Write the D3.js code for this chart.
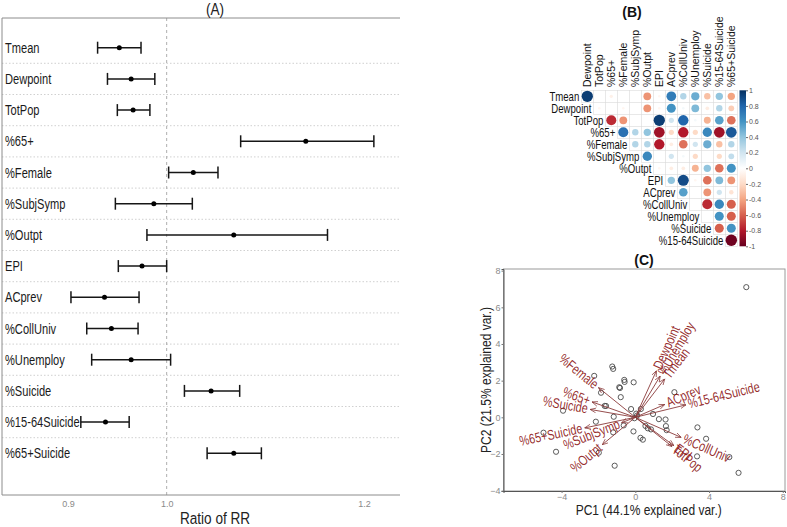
<!DOCTYPE html>
<html><head><meta charset="utf-8">
<script src="https://cdn.jsdelivr.net/npm/d3@7"></script>
<style>body{margin:0;background:#fff} svg{display:block} text{font-family:"Liberation Sans",Arial,sans-serif}</style>
</head><body><svg id="c" width="787" height="527"></svg>
<script>
// ---------- Panel A data ----------
const rrVars = ["Tmean","Dewpoint","TotPop","%65+","%Female","%SubjSymp","%Outpt","EPI","ACprev","%CollUniv","%Unemploy","%Suicide","%15-64Suicide","%65+Suicide"];
const rrEst  = [0.952,0.964,0.966,1.141,1.027,0.987,1.068,0.975,0.937,0.944,0.964,1.045,0.938,1.068];
const rrLow  = [0.930,0.940,0.950,1.075,1.002,0.948,0.980,0.951,0.903,0.919,0.924,1.018,0.913,1.041];
const rrHigh = [0.974,0.988,0.983,1.210,1.052,1.026,1.163,1.000,0.972,0.971,1.004,1.074,0.962,1.096];
const rrTicks = [0.9,1.0,1.2];

// ---------- Panel B data ----------
const corrVars = ["Tmean","Dewpoint","TotPop","%65+","%Female","%SubjSymp","%Outpt","EPI","ACprev","%CollUniv","%Unemploy","%Suicide","%15-64Suicide","%65+Suicide"];
// row i holds correlations of corrVars[i] with corrVars[i+1..13]
const corrRows = [
  [0.95,0,-0.08,0,0,-0.45,-0.05,0.7,0.3,0.5,-0.3,0.4,-0.4],
  [-0.05,0,-0.05,0,-0.45,-0.05,0.6,0.05,0.45,-0.1,0.3,-0.25],
  [-0.75,-0.45,0,0,0.95,0.2,0.8,0.05,-0.35,0.55,-0.55],
  [0.75,0.3,0.4,-0.85,-0.2,-0.8,-0.2,0.65,-0.85,0.85],
  [0.3,0.3,-0.8,-0.1,-0.55,0.2,0.5,-0.3,0.3],
  [0.65,0,0.2,0.05,-0.2,0,-0.2,0.25],
  [-0.05,-0.1,-0.1,-0.35,0.4,-0.55,0.6],
  [0.4,0.9,-0.05,-0.55,0.45,-0.45],
  [0.55,0,-0.45,0.2,-0.15],
  [0,-0.75,0.65,-0.6],
  [0,0.6,-0.6],
  [-0.6,0.6],
  [-0.98]
];
const corrLegendTicks = [1,0.8,0.6,0.4,0.2,0,-0.2,-0.4,-0.6,-0.8,-1];
const corrPalette = ["#67001F","#B2182B","#D6604D","#F4A582","#FDDBC7","#FFFFFF","#D1E5F0","#92C5DE","#4393C3","#2166AC","#053061"];

// ---------- Panel C data ----------
const pcaScores = [[6.02,7.1],[-1.25,2.77],[-1.2,2.64],[-2.23,2.26],[-0.6,2.04],[-0.58,1.93],[-0.09,1.91],[-0.87,1.64],[-0.83,1.6],[-1.86,1.34],[-0.79,1.1],[2.12,1.37],[-1.66,0.62],[-1.59,0.62],[-0.23,0.45],[0.3,0.45],[-3.92,0.36],[0.96,0.18],[-1.17,0.03],[1.28,-0.1],[1.64,-0.12],[-2.14,-0.24],[-0.63,-0.44],[0.55,-0.47],[0.68,-0.6],[0.85,-0.66],[1.66,-0.48],[1.7,-0.7],[3.37,-0.55],[-0.1,-0.77],[-4.98,-0.84],[-1.2,-0.82],[3.84,-1.17],[0.28,-1.12],[0.41,-1.22],[-4.3,-1.88],[-1.98,-1.93],[3.35,-2.13],[5.1,-2.17],[-1.12,-2.64],[5.6,-3.03],[0.1,0.1],[-0.05,-0.05],[0.05,0.2]];
const pcaLoadVars = ["Tmean","Dewpoint","%Unemploy","TotPop","EPI","%65+","%Female","%SubjSymp","%Outpt","ACprev","%CollUniv","%Suicide","%15-64Suicide","%65+Suicide"];
const pcaLoadX = [1.6,1.15,1.35,2.0,2.1,-2.35,-2.0,-0.75,-1.8,1.6,2.5,-2.45,2.75,-2.75];
const pcaLoadY = [2.1,2.55,2.25,-1.6,-1.55,0.84,1.62,-0.3,-1.5,0.7,-1.1,0.43,0.68,-0.58];
const pcaXTicks = [-4,0,4,8];
const pcaYTicks = [-4,-2,0,2,4,6,8];

// ---------- helpers ----------
const svg = d3.select("#c");
const defs = svg.append("defs");
function txt(parent, str, x, y, o = {}) {
  const g = parent.append("g").attr("transform", `translate(${x},${y}) rotate(${o.rot||0}) scale(${o.sx||1},1)`);
  const t = g.append("text").text(str)
    .attr("font-size", o.size || 12)
    .attr("fill", o.fill || "#000")
    .attr("text-anchor", o.anchor || "start");
  if (o.base) t.attr("dominant-baseline", o.base);
  if (o.weight) t.attr("font-weight", o.weight);
  if (o.dx) t.attr("dx", o.dx);
  return t;
}

// ================= Panel A =================
const A = svg.append("g");
const xA = d3.scaleLinear().domain([0.9,1.2]).range([68,364]);
const yA = d3.scalePoint().domain(rrVars).range([47.7,453.3]);
const aTop = 18, aBot = 495, aLeft = 2, aRight = 400;

for (let i = 0; i < rrVars.length - 1; i++) {
  const y = (yA(rrVars[i]) + yA(rrVars[i+1])) / 2;
  A.append("line").attr("x1", aLeft).attr("x2", aRight).attr("y1", y).attr("y2", y)
    .attr("stroke", "#c4c4c4").attr("stroke-width", 0.8).attr("stroke-dasharray", "1.5,2");
}
A.append("line").attr("x1", xA(1)).attr("x2", xA(1)).attr("y1", aTop).attr("y2", aBot)
  .attr("stroke", "#9a9a9a").attr("stroke-width", 0.8).attr("stroke-dasharray", "3,3");
A.append("path").attr("d", `M${aRight},${aTop}H${aLeft}V${aBot}H${aRight}`)
  .attr("fill", "none").attr("stroke", "#8c8c8c").attr("stroke-width", 1);

rrVars.forEach((v, i) => {
  const y = yA(v);
  A.append("line").attr("x1", xA(rrLow[i])).attr("x2", xA(rrHigh[i])).attr("y1", y).attr("y2", y)
    .attr("stroke", "#161616").attr("stroke-width", 1.5);
  [rrLow[i], rrHigh[i]].forEach(e => {
    A.append("line").attr("x1", xA(e)).attr("x2", xA(e)).attr("y1", y - 6).attr("y2", y + 6)
      .attr("stroke", "#161616").attr("stroke-width", 1.5);
  });
  A.append("circle").attr("cx", xA(rrEst[i])).attr("cy", y).attr("r", 2.5).attr("fill", "#000");
  txt(A, v, 5, y, {size: 15, sx: 0.74, base: "central", fill: "#1a1a1a"});
});

const axA = A.append("g").attr("transform", `translate(0,${aBot})`)
  .call(d3.axisBottom(xA).tickValues(rrTicks).tickSize(0).tickPadding(6).tickFormat(d3.format(".1f")));
axA.select(".domain").remove();
axA.selectAll("text").attr("font-size", 9).attr("fill", "#8a8a8a").attr("font-family", "Liberation Sans, Arial, sans-serif");

txt(A, "(A)", 215, 15, {size: 16, sx: 0.85, anchor: "middle", fill: "#222"});
txt(A, "Ratio of RR", 215, 524, {size: 17, sx: 0.8, anchor: "middle", fill: "#222"});

// ================= Panel B =================
const B = svg.append("g");
const xB = d3.scaleBand().domain(corrVars.slice(1)).range([581.3,737.3]);
const yB = d3.scaleBand().domain(corrVars.slice(0,13)).range([90.3,246.3]);
const bw = xB.bandwidth();
const colB = d3.scaleLinear().domain(d3.range(11).map(k => -1 + k * 0.2)).range(corrPalette);

corrRows.forEach((row, i) => {
  row.forEach((r, k) => {
    const cv = corrVars[i + 1 + k];
    B.append("rect").attr("x", xB(cv)).attr("y", yB(corrVars[i])).attr("width", bw).attr("height", bw)
      .attr("fill", "#fff").attr("stroke", "#dcdcdc").attr("stroke-width", 0.6);
  });
});
corrRows.forEach((row, i) => {
  row.forEach((r, k) => {
    if (r === 0) return;
    const cv = corrVars[i + 1 + k];
    B.append("circle").attr("cx", xB(cv) + bw / 2).attr("cy", yB(corrVars[i]) + bw / 2)
      .attr("r", 5.8 * Math.sqrt(Math.abs(r))).attr("fill", colB(r));
  });
  txt(B, corrVars[i], xB(corrVars[i + 1]) - 2, yB(corrVars[i]) + bw / 2,
      {size: 12, sx: 0.8, anchor: "end", base: "central", fill: "#111"});
});
corrVars.slice(1).forEach(v => {
  txt(B, v, xB(v) + bw / 2, 87, {size: 10.5, rot: -90, base: "central", fill: "#111"});
});

const cy = d3.scaleLinear().domain([-1,1]).range([246.3,90.3]);
const grad = defs.append("linearGradient").attr("id", "cg").attr("x1", 0).attr("x2", 0).attr("y1", 1).attr("y2", 0);
corrPalette.forEach((c, k) => grad.append("stop").attr("offset", k / 10).attr("stop-color", c));
B.append("rect").attr("x", 739.5).attr("y", 90.3).attr("width", 6.5).attr("height", 156).attr("fill", "url(#cg)");
const axB = B.append("g").attr("transform", "translate(746,0)")
  .call(d3.axisRight(cy).tickValues(corrLegendTicks).tickSize(2).tickPadding(1).tickFormat(d => String(+d.toFixed(1))));
axB.select(".domain").remove();
axB.selectAll("line").attr("stroke", "#666");
axB.selectAll("text").attr("font-size", 7).attr("fill", "#555").attr("font-family", "Liberation Sans, Arial, sans-serif");
txt(B, "(B)", 632, 17, {size: 14, anchor: "middle", weight: "bold", fill: "#111"});

// ================= Panel C =================
const C = svg.append("g");
const xC = d3.scaleLinear().domain([-7.15,8.12]).range([503.5,785]);
const yC = d3.scaleLinear().domain([-4.02,8.09]).range([491,269]);

C.append("rect").attr("x", 503.5).attr("y", 269).attr("width", 785 - 503.5).attr("height", 491 - 269)
  .attr("fill", "#fff").attr("stroke", "#9a9a9a").attr("stroke-width", 1);

const axCx = C.append("g").attr("transform", "translate(0,491)")
  .call(d3.axisBottom(xC).tickValues(pcaXTicks).tickSize(2).tickPadding(1).tickFormat(d3.format("d")));
const axCy = C.append("g").attr("transform", "translate(503.5,0)")
  .call(d3.axisLeft(yC).tickValues(pcaYTicks).tickSize(2).tickPadding(1).tickFormat(d3.format("d")));
[axCx, axCy].forEach(a => {
  a.select(".domain").attr("stroke", "#555");
  a.selectAll("line").attr("stroke", "#777");
  a.selectAll("text").attr("font-size", 9).attr("fill", "#8a8a8a").attr("font-family", "Liberation Sans, Arial, sans-serif");
});

pcaScores.forEach(p => {
  C.append("circle").attr("cx", xC(p[0])).attr("cy", yC(p[1])).attr("r", 2.6)
    .attr("fill", "none").attr("stroke", "#4a4a4a").attr("stroke-width", 0.9);
});

defs.append("marker").attr("id", "ah").attr("viewBox", "0 0 10 10").attr("refX", 10).attr("refY", 5)
  .attr("markerWidth", 6).attr("markerHeight", 6).attr("markerUnits", "userSpaceOnUse").attr("orient", "auto")
  .append("path").attr("d", "M0,1 L10,5 L0,9").attr("fill", "none").attr("stroke", "#8a3a3a").attr("stroke-width", 1.2);
pcaLoadVars.forEach((v, i) => {
  C.append("line").attr("x1", xC(0)).attr("y1", yC(0)).attr("x2", xC(pcaLoadX[i])).attr("y2", yC(pcaLoadY[i]))
    .attr("stroke", "#8a3a3a").attr("stroke-width", 0.9).attr("marker-end", "url(#ah)");
});
pcaLoadVars.forEach((v, i) => {
  const lx = pcaLoadX[i], ly = pcaLoadY[i];
  const ang = Math.atan(ly / lx) * 180 / Math.PI;
  const pos = lx > 0;
  txt(C, v, xC(lx), yC(ly), {size: 14, sx: 0.78, rot: -ang, anchor: pos ? "start" : "end",
      base: "central", dx: pos ? 3 : -3, fill: "#8B1111"}).attr("fill-opacity", 0.9);
});

txt(C, "(C)", 644, 265, {size: 14, anchor: "middle", weight: "bold", fill: "#111"});
txt(C, "PC1 (44.1% explained var.)", 648.7, 515, {size: 15, sx: 0.8, anchor: "middle", fill: "#222"});
txt(C, "PC2 (21.5% explained var.)", 486, 380, {size: 15, sx: 0.8, rot: -90, anchor: "middle", base: "central", fill: "#222"});
</script></body></html>
